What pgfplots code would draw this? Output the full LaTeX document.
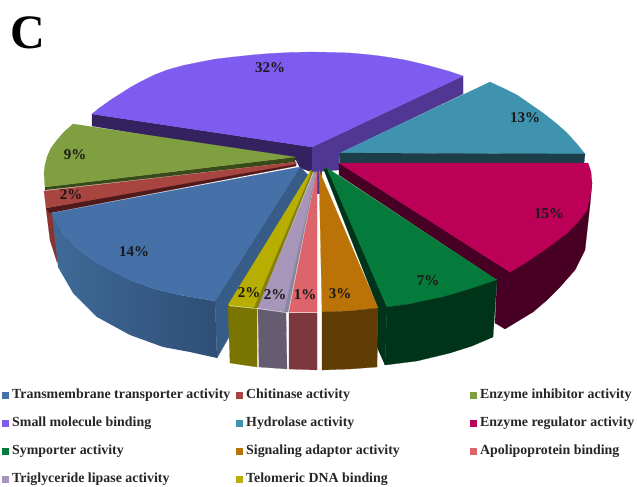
\documentclass[border=0pt]{standalone}
\usepackage{pgfplots}
\pgfplotsset{compat=1.18}
\usepackage{fontspec}
\setmainfont{Liberation Serif}
% shades for the pie faces
\definecolor{blueTop}{HTML}{4571A8}
\definecolor{blueIn}{HTML}{365C87}
\definecolor{blueA}{HTML}{3F6A98}
\definecolor{blueD}{HTML}{2E4E76}
\definecolor{redTop}{HTML}{A94540}
\definecolor{redIn}{HTML}{501A1C}
\definecolor{redOut}{HTML}{8A3431}
\definecolor{oliveTop}{HTML}{7F9F40}
\definecolor{oliveIn}{HTML}{394A1A}
\definecolor{purpleTop}{HTML}{7F5CF0}
\definecolor{purpleL}{HTML}{33225F}
\definecolor{purpleR}{HTML}{503794}
\definecolor{tealTop}{HTML}{3F93AE}
\definecolor{tealIn}{HTML}{1B3E48}
\definecolor{magTop}{HTML}{BC0058}
\definecolor{magIn}{HTML}{470024}
\definecolor{greenTop}{HTML}{047A3B}
\definecolor{greenIn}{HTML}{00341A}
\definecolor{orangeTop}{HTML}{BB7206}
\definecolor{orangeOut}{HTML}{5F3D05}
\definecolor{pinkTop}{HTML}{DC646A}
\definecolor{pinkOut}{HTML}{7D383E}
\definecolor{lilacTop}{HTML}{A896BA}
\definecolor{lilacIn}{HTML}{8A86A0}
\definecolor{lilacOut}{HTML}{665C72}
\definecolor{yellowTop}{HTML}{B7AE00}
\definecolor{yellowIn}{HTML}{85800A}
\definecolor{yellowOut}{HTML}{7A7400}
% one face of the pie, given as an outline in plot coordinates
\newcommand{\face}[2]{\addplot[fill=#1,draw=#1,line width=0.2pt] coordinates {#2} --cycle;}
\newcommand{\pct}[3]{\node[font=\fontsize{15}{15}\selectfont\bfseries,text=black!90] at (axis cs:#1,#2) {#3};}
\newcommand{\key}[4]{%
  \addplot[fill=#1,draw=none] coordinates {(#2,#3-3.5) (#2+7,#3-3.5) (#2+7,#3+3.5) (#2,#3+3.5)} --cycle;
  \node[anchor=west,inner sep=0pt,font=\fontsize{13.9}{14}\selectfont\bfseries,text=black!85] at (axis cs:#2+10,#3) {#4};}
\begin{document}
\begin{tikzpicture}
\begin{axis}[
  scale only axis, width=637pt, height=487pt,
  xmin=0, xmax=637, ymin=0, ymax=487, y dir=reverse,
  hide axis, clip=false, axis on top=false,
]
% page background
\addplot[fill=white,draw=none] coordinates {(0,0)(637,0)(637,487)(0,487)} --cycle;
% back slices
\face{purpleL}{(92,114)(92,126)(296,160)(300,168)(312,172)(312,147)}
\face{purpleR}{(312,147)(463,76)(463,94)(340,153)(339,170)(312,172)}
\face{purpleR}{(317,170)(321,170)(321,193)(317,193)}
\face{purpleTop}{(92,114)(98,109)(105,104)(112,99)(120,94)(131,87)(142,81)(154,75)(167,70)(183,65.5)(200,62)(216,59)(233,57)(252,55)(270,53.5)(290,52.5)(310,52)(330,52.3)(350,53)(365,54.3)(380,56)(393,58)(405,60)(418,63)(430,66)(448,71)(463,76)(312,147)}
\face{tealTop}{(340,153)(490,82)(505,89)(517,95)(530,104)(543,113)(557,124)(567,133)(577,144)(585,154)}
\face{tealIn}{(340,153)(585,154)(584,163)(340,163)}
% right-hand slices, outer wall first
\face{magIn}{(592,183)(590,205)(585,250)(575,270)(560,287)(547,300)(533,312)(505,329)(495,323)(497,280)(510,272)}
\face{magIn}{(339,163)(339,175)(497,280)(510,272)}
\face{magTop}{(339,163)(588,163)(591,172)(592,183)(590,197)(587,210)(578,222)(567,233)(554,243)(540,253)(525,263)(510,272)}
\face{greenIn}{(324,170)(327,168)(387,307)(385,365)(377,347)(378,308)}
\face{greenTop}{(327,168)(497,280)(470,289)(443,297)(427,301)(410,304)(387,307)}
\face{greenIn}{(387,307)(410,304)(443,297)(470,289)(497,280)(493,337)(472,346)(450,353)(417,361)(385,365)}
\face{orangeTop}{(319,170)(378,308)(350,311)(322,312)}
\face{orangeOut}{(322,312)(350,311)(378,308)(377,367)(350,369)(322,370)}
% left-hand slices
\face{oliveIn}{(45,187)(45,190)(295,162)(295,157)}
\face{oliveTop}{(295,157)(73,124)(64,132)(57,140)(51,148)(47,157)(45,165)(44,173)(45,187)}
\face{redOut}{(46,208)(50,240)(57,262)(60,262)(52,213)}
\face{redIn}{(46,208)(50,213)(296,166)(296,163)}
\face{redTop}{(296,162)(44,191)(46,208)(296,164)}
\face{blueIn}{(300,167)(215,301)(217,358)(229,337)(229,305)(308,175)}
% outer wall of the large slice
\addplot[left color=blueA,right color=blueD,draw=none] coordinates {(52,213)(63,233)(78,249)(97,263)(130,280)(155,289)(180,295)(215,301)(217,358)(190,352)(163,347)(130,335)(97,317)(73,293)(58,267)} --cycle;
\face{blueTop}{(300,167)(52,213)(63,233)(78,249)(97,263)(113,272)(130,280)(155,289)(180,295)(215,301)}
% front slices
\face{yellowTop}{(311,170)(228,305)(254,308)(310,176)}
\face{yellowIn}{(310,176)(254,308)(258,308)(313,172)(311,170)}
\face{yellowOut}{(228,306)(257,309)(257,367)(230,363)}
\face{lilacTop}{(314,172)(258,308)(284,312)(315,178)}
\face{lilacIn}{(315,178)(284,312)(288,312)(316,172)(314,172)}
\face{lilacOut}{(258,309)(286,313)(287,369)(259,367)}
\face{pinkTop}{(316.5,172)(289,312)(317,312)(317,172)}
\face{pinkOut}{(289,313)(317,313)(317,370)(289,369)}
% percentages on the slices
\pct{270}{68}{32\%}
\pct{525}{118}{13\%}
\pct{549}{214}{15\%}
\pct{428}{281}{7\%}
\pct{340}{294}{3\%}
\pct{305}{295}{1\%}
\pct{275}{295}{2\%}
\pct{249}{293}{2\%}
\pct{134}{252}{14\%}
\pct{71}{195}{2\%}
\pct{75}{155}{9\%}
% panel letter
\node[font=\fontsize{48}{48}\selectfont\bfseries,anchor=center] at (axis cs:28,33) {C};
% key
\key{blueTop}{2}{395}{Transmembrane transporter activity}
\key{redTop}{236}{395}{Chitinase activity}
\key{oliveTop}{470}{395}{Enzyme inhibitor activity}
\key{purpleTop}{2}{423}{Small molecule binding}
\key{tealTop}{236}{423}{Hydrolase activity}
\key{magTop}{470}{423}{Enzyme regulator activity}
\key{greenTop}{2}{451}{Symporter activity}
\key{orangeTop}{236}{451}{Signaling adaptor activity}
\key{pinkTop}{470}{451}{Apolipoprotein binding}
\key{lilacTop}{2}{479}{Triglyceride lipase activity}
\key{yellowTop}{236}{479}{Telomeric DNA binding}
\end{axis}
\end{tikzpicture}
\end{document}
